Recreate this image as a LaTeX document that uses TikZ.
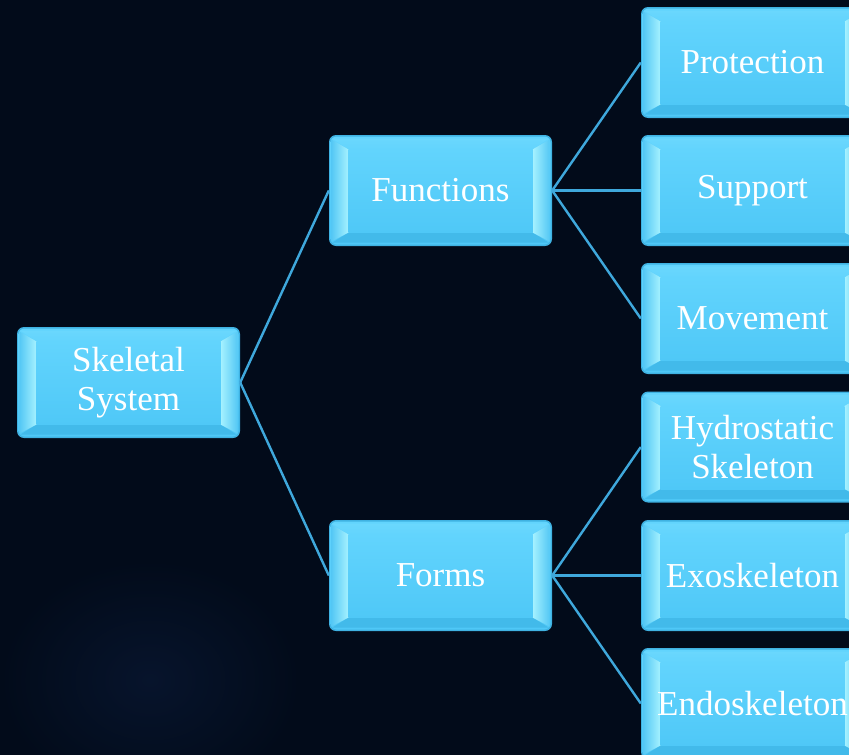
\documentclass[tikz,border=0pt]{standalone}
\usepackage{fontspec}
\setmainfont{Liberation Serif}
\usetikzlibrary{shadings}
\definecolor{bg}{HTML}{020B1A}
\definecolor{bgglow}{HTML}{07142C}
\definecolor{facetop}{HTML}{62D4FD}
\definecolor{facebot}{HTML}{4FC8F7}
\definecolor{rimc}{HTML}{3FB2E2}
\definecolor{bevout}{HTML}{55C8F5}
\definecolor{bevin}{HTML}{A6F2FF}
\definecolor{bevtop}{HTML}{6AD7FD}
\definecolor{bevbot}{HTML}{42BAEA}
\definecolor{linec}{HTML}{3FA8DC}
\tikzset{
  boxnode/.style={rectangle, minimum width=223pt, minimum height=111pt, inner sep=0pt,
    text=white, align=center, font=\fontsize{35}{39}\selectfont},
  conn/.style={draw=linec, line width=2.4pt},
}
\newcommand\bevbox[4]{%
 \begin{scope}[shift={(#2,#3)}]
  \fill[rimc, rounded corners=7pt] (-111.5,-55.5) rectangle (111.5,55.5);
  \shade[top color=facetop, bottom color=facebot, rounded corners=6pt] (-110,-54) rectangle (110,54);
  \shade[top color=bevtop, bottom color=facetop] (-108,-52) -- (108,-52) -- (92,-41) -- (-92,-41) -- cycle;
  \fill[bevbot] (-108,52) -- (108,52) -- (92,42) -- (-92,42) -- cycle;
  \shade[left color=bevout, right color=bevin] (-109,-51) -- (-92,-41) -- (-92,42) -- (-109,51) -- cycle;
  \shade[left color=bevin, right color=bevout] (109,-51) -- (92,-41) -- (92,42) -- (109,51) -- cycle;
  \shade[top color=facetop, bottom color=facebot] (-92,-41) rectangle (92,42);
 \end{scope}
 \node[boxnode] (#1) at (#2,#3) {#4};
}
\begin{document}
\begin{tikzpicture}[x=1pt, y=-1pt]
\fill[bg] (0,0) rectangle (849,755);
\useasboundingbox (0,0) rectangle (849,755);
\shade[inner color=bgglow, outer color=bg] (150,680) ellipse (150 and 120);
\bevbox{skel}{128.5}{382.5}{Skeletal\\System}
\bevbox{func}{440.5}{190.5}{Functions}
\bevbox{forms}{440.5}{575.5}{Forms}
\bevbox{prot}{752.5}{62.5}{Protection}
\bevbox{supp}{752.5}{190.5}{Support}
\bevbox{move}{752.5}{318.5}{Movement}
\bevbox{hydro}{752.5}{447}{Hydrostatic\\Skeleton}
\bevbox{exo}{752.5}{575.5}{Exoskeleton}
\bevbox{endo}{752.5}{703.5}{Endoskeleton}
\draw[conn] (skel.east) -- (func.west);
\draw[conn] (skel.east) -- (forms.west);
\draw[conn] (func.east) -- (prot.west);
\draw[conn] (func.east) -- (supp.west);
\draw[conn] (func.east) -- (move.west);
\draw[conn] (forms.east) -- (hydro.west);
\draw[conn] (forms.east) -- (exo.west);
\draw[conn] (forms.east) -- (endo.west);
\end{tikzpicture}
\end{document}
